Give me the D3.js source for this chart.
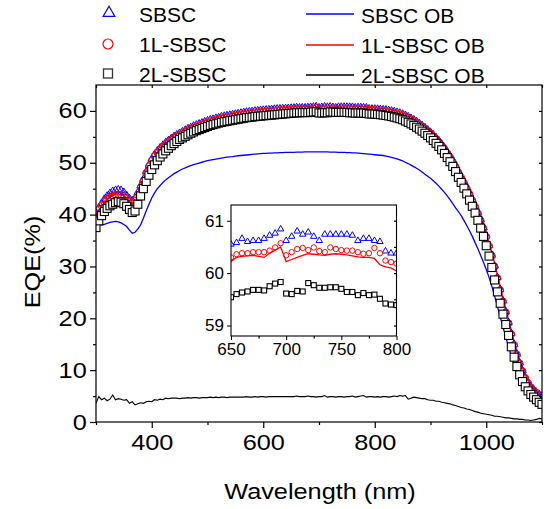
<!DOCTYPE html>
<html>
<head>
<meta charset="utf-8">
<script src="https://cdn.jsdelivr.net/npm/d3@7"></script>
<style>
  body { margin: 0; background: #fff; }
  svg text { font-family: Arial, "Liberation Sans", sans-serif; fill: #000; }
</style>
</head>
<body>
<div id="chart"></div>
<script>
////////////// DATA //////////////

// sampling grid of the measurement, nm
const wavelength = d3.range(300, 1101, 5);

// EQE (%) of the three cells (markers), one row = 50 nm
const sbsc = [
    40.3, 41.3, 42.2, 43.0, 43.6, 44.1, 44.5, 44.7, 44.8, 44.7,
    44.3, 43.7, 43.1, 42.7, 43.2, 44.3, 45.6, 46.8, 48.3, 49.6,
    50.7, 51.6, 52.3, 52.9, 53.4, 53.9, 54.3, 54.7, 55.1, 55.4,
    55.7, 56.0, 56.3, 56.6, 56.8, 57.1, 57.3, 57.5, 57.7, 57.9,
    58.1, 58.3, 58.4, 58.6, 58.7, 58.9, 59.0, 59.1, 59.2, 59.3,
    59.4, 59.5, 59.6, 59.7, 59.8, 59.85, 59.9, 60.0, 60.05, 60.1,
    60.15, 60.2, 60.25, 60.3, 60.35, 60.4, 60.42, 60.45, 60.48, 60.5,
    60.55, 60.58, 60.66, 60.6, 60.62, 60.62, 60.66, 60.72, 60.76, 60.84,
    60.62, 60.7, 60.8, 60.74, 60.78, 60.7, 60.62, 60.74, 60.74, 60.74,
    60.74, 60.74, 60.72, 60.62, 60.66, 60.66, 60.62, 60.6, 60.42, 60.38,
    60.38, 60.35, 60.3, 60.25, 60.2, 60.1, 60.0, 59.9, 59.75, 59.6,
    59.4, 59.15, 58.9, 58.6, 58.3, 57.95, 57.6, 57.2, 56.8, 56.35,
    55.9, 55.4, 54.85, 54.25, 53.6, 52.9, 52.1, 51.3, 50.4, 49.4,
    48.3, 47.3, 46.3, 45.2, 44.1, 42.9, 41.7, 40.4, 39.0, 37.5,
    35.9, 34.1, 32.2, 30.1, 27.9, 25.6, 23.4, 21.3, 19.2, 17.1,
    15.0, 13.1, 11.4, 9.9, 8.6, 7.6, 6.8, 6.2, 5.7, 5.3,
    5.0
];

const sbsc1L = [
    40.0, 40.9, 41.7, 42.4, 42.9, 43.3, 43.6, 43.8, 43.9, 43.8,
    43.5, 43.0, 42.5, 42.1, 42.6, 43.8, 45.2, 46.5, 48.0, 49.3,
    50.4, 51.3, 52.0, 52.6, 53.1, 53.6, 54.0, 54.4, 54.8, 55.1,
    55.4, 55.7, 56.0, 56.3, 56.5, 56.8, 57.0, 57.2, 57.4, 57.6,
    57.8, 58.0, 58.1, 58.3, 58.4, 58.6, 58.7, 58.8, 58.9, 59.0,
    59.1, 59.2, 59.3, 59.4, 59.5, 59.55, 59.6, 59.7, 59.75, 59.8,
    59.85, 59.9, 59.95, 60.0, 60.05, 60.1, 60.13, 60.16, 60.2, 60.24,
    60.3, 60.36, 60.38, 60.38, 60.4, 60.4, 60.4, 60.43, 60.49, 60.57,
    60.34, 60.4, 60.46, 60.48, 60.44, 60.49, 60.42, 60.4, 60.49, 60.46,
    60.44, 60.43, 60.43, 60.4, 60.37, 60.38, 60.48, 60.38, 60.24, 60.21,
    60.18, 60.12, 60.07, 60.02, 59.95, 59.85, 59.75, 59.63, 59.5, 59.35,
    59.15, 58.9, 58.65, 58.35, 58.05, 57.7, 57.35, 56.95, 56.55, 56.1,
    55.65, 55.15, 54.6, 54.0, 53.35, 52.65, 51.85, 51.05, 50.15, 49.2,
    48.15, 47.15, 46.15, 45.05, 43.95, 42.75, 41.55, 40.25, 38.85, 37.35,
    35.75, 33.95, 32.05, 29.95, 27.75, 25.45, 23.25, 21.15, 19.05, 16.95,
    14.9, 13.0, 11.3, 9.8, 8.5, 7.5, 6.7, 6.1, 5.6, 5.2,
    4.9
];

const sbsc2L = [
    37.5, 38.8, 39.8, 40.6, 41.2, 41.7, 42.0, 42.3, 42.5, 42.4,
    42.1, 41.6, 41.0, 40.4, 40.7, 42.0, 43.6, 45.0, 46.4, 47.6,
    48.7, 49.6, 50.4, 51.1, 51.7, 52.3, 52.8, 53.3, 53.7, 54.1,
    54.5, 54.8, 55.1, 55.4, 55.7, 55.95, 56.2, 56.4, 56.6, 56.8,
    57.0, 57.2, 57.35, 57.5, 57.65, 57.8, 57.9, 58.0, 58.1, 58.2,
    58.3, 58.4, 58.5, 58.6, 58.7, 58.75, 58.8, 58.9, 58.95, 59.0,
    59.05, 59.1, 59.15, 59.2, 59.25, 59.3, 59.35, 59.4, 59.45, 59.5,
    59.54, 59.6, 59.63, 59.65, 59.68, 59.68, 59.67, 59.75, 59.8, 59.83,
    59.61, 59.6, 59.66, 59.65, 59.81, 59.77, 59.72, 59.72, 59.73, 59.73,
    59.7, 59.64, 59.64, 59.58, 59.62, 59.58, 59.59, 59.51, 59.42, 59.4,
    59.39, 59.33, 59.27, 59.2, 59.12, 59.03, 58.92, 58.8, 58.65, 58.5,
    58.3, 58.05, 57.8, 57.5, 57.2, 56.85, 56.5, 56.1, 55.7, 55.25,
    54.8, 54.3, 53.75, 53.15, 52.5, 51.8, 51.0, 50.2, 49.3, 48.3,
    47.2, 46.2, 45.1, 44.0, 42.8, 41.6, 40.3, 38.9, 37.4, 35.8,
    34.0, 32.0, 29.8, 27.4, 25.1, 22.9, 20.8, 18.8, 16.7, 14.5,
    12.5, 10.7, 9.1, 7.8, 6.8, 6.0, 5.3, 4.8, 4.3, 3.8,
    3.4
];

// EQE (%) of the "OB" measurements (lines)
const sbscOB = [
    38.6, 38.3, 38.0, 38.1, 38.3, 38.5, 38.6, 38.7, 38.6, 38.4,
    38.1, 37.7, 37.0, 36.4, 36.6, 37.2, 38.0, 39.3, 40.7, 42.0,
    43.2, 44.2, 45.0, 45.6, 46.2, 46.7, 47.1, 47.5, 47.9, 48.2,
    48.5, 48.8, 49.0, 49.25, 49.45, 49.65, 49.8, 49.95, 50.1, 50.25,
    50.4, 50.5, 50.6, 50.7, 50.8, 50.9, 51.0, 51.1, 51.15, 51.2,
    51.3, 51.35, 51.4, 51.45, 51.5, 51.55, 51.6, 51.65, 51.7, 51.75,
    51.8, 51.8, 51.85, 51.85, 51.9, 51.9, 51.95, 51.95, 52.0, 52.0,
    52.0, 52.0, 52.05, 52.05, 52.05, 52.1, 52.1, 52.1, 52.1, 52.1,
    52.1, 52.1, 52.1, 52.1, 52.05, 52.05, 52.05, 52.0, 52.0, 52.0,
    51.95, 51.95, 51.9, 51.9, 51.85, 51.8, 51.75, 51.7, 51.65, 51.6,
    51.55, 51.5, 51.45, 51.4, 51.3, 51.2, 51.05, 50.9, 50.75, 50.55,
    50.35, 50.1, 49.85, 49.55, 49.25, 48.95, 48.6, 48.2, 47.8, 47.4,
    47.0, 46.55, 46.05, 45.5, 44.9, 44.3, 43.6, 42.9, 42.1, 41.3,
    40.6, 39.8, 38.9, 37.9, 36.9, 35.8, 34.6, 33.4, 32.1, 30.8,
    29.4, 27.9, 26.2, 24.3, 22.3, 20.3, 18.3, 16.4, 14.5, 12.7,
    11.0, 9.5, 8.2, 7.1, 6.2, 5.4, 4.8, 4.3, 3.8, 3.4,
    3.0
];

const sbsc1LOB = [
    39.9, 40.8, 41.6, 42.3, 42.9, 43.4, 43.7, 43.9, 44.0, 43.9,
    43.6, 43.1, 42.5, 42.0, 42.4, 43.6, 45.0, 46.4, 47.9, 49.2,
    50.3, 51.2, 51.9, 52.5, 53.0, 53.5, 53.9, 54.3, 54.7, 55.0,
    55.3, 55.6, 55.9, 56.2, 56.4, 56.7, 56.9, 57.1, 57.3, 57.5,
    57.7, 57.9, 58.0, 58.2, 58.3, 58.5, 58.6, 58.7, 58.8, 58.9,
    59.0, 59.1, 59.2, 59.3, 59.4, 59.45, 59.5, 59.6, 59.65, 59.7,
    59.75, 59.8, 59.85, 59.9, 59.95, 60.0, 60.04, 60.08, 60.12, 60.16,
    60.22, 60.3, 60.32, 60.33, 60.34, 60.32, 60.3, 60.38, 60.44, 60.5,
    60.22, 60.26, 60.3, 60.34, 60.37, 60.36, 60.35, 60.34, 60.36, 60.37,
    60.36, 60.35, 60.33, 60.31, 60.3, 60.3, 60.28, 60.16, 60.12, 60.1,
    60.04, 60.0, 59.96, 59.92, 59.86, 59.78, 59.68, 59.57, 59.45, 59.3,
    59.12, 58.9, 58.65, 58.37, 58.07, 57.75, 57.4, 57.02, 56.62, 56.2,
    55.75, 55.27, 54.75, 54.18, 53.55, 52.87, 52.12, 51.32, 50.45, 49.52,
    48.5, 47.5, 46.5, 45.45, 44.35, 43.2, 42.0, 40.7, 39.35, 37.9,
    36.3, 34.55, 32.65, 30.6, 28.4, 26.15, 23.95, 21.85, 19.75, 17.65,
    15.55, 13.65, 11.95, 10.45, 9.1, 8.0, 7.1, 6.4, 5.9, 5.5,
    5.2
];

const sbsc2LOB = [
    3.6, 4.9, 4.3, 4.6, 4.1, 4.4, 5.2, 4.3, 4.5, 4.4,
    4.2, 4.3, 3.6, 3.9, 3.3, 3.5, 3.7, 3.6, 3.9, 4.0,
    3.9, 4.3, 4.2, 4.4, 4.3, 4.6, 4.5, 4.6, 4.6, 4.6,
    4.5, 4.6, 4.6, 4.7, 4.6, 4.7, 4.7, 4.6, 4.7, 4.7,
    4.7, 4.8, 4.7, 4.8, 4.7, 4.8, 4.8, 4.7, 4.8, 4.8,
    4.8, 4.8, 4.8, 4.8, 4.9, 4.8, 4.8, 4.9, 4.8, 4.9,
    4.9, 4.8, 4.9, 4.9, 4.9, 4.9, 4.9, 4.9, 4.9, 4.9,
    4.9, 4.9, 5.0, 4.9, 4.9, 4.9, 5.0, 4.9, 4.9, 4.8,
    4.9, 4.9, 5.1, 4.8, 4.9, 4.9, 4.8, 4.9, 4.9, 4.8,
    4.9, 4.9, 5.0, 4.8, 4.9, 5.0, 5.1, 4.8, 4.9, 4.9,
    4.8, 4.9, 4.8, 4.9, 4.9, 4.8, 4.9, 5.0, 4.9, 5.1,
    5.0, 5.1, 4.4, 4.6, 4.8, 4.7, 4.6, 4.5, 4.5, 4.3,
    4.2, 4.2, 4.0, 4.0, 3.8, 3.7, 3.6, 3.5, 3.3, 3.2,
    3.0, 2.8, 2.7, 2.5, 2.4, 2.2, 2.0, 1.9, 1.7, 1.6,
    1.5, 1.4, 1.3, 1.1, 1.1, 1.0, 0.9, 0.8, 0.8, 0.7,
    0.6, 0.6, 0.5, 0.5, 0.4, 0.4, 0.3, 0.4, 0.5, 0.7,
    0.6
];

const markerNames = ["SBSC", "1L-SBSC", "2L-SBSC"];
const lineNames = ["SBSC OB", "1L-SBSC OB", "2L-SBSC OB"];

const xTicksMajor = [400, 600, 800, 1000];
const xTicksMinor = [300, 500, 700, 900, 1100];
const yTicksMajor = [0, 10, 20, 30, 40, 50, 60];
const yTicksMinor = [5, 15, 25, 35, 45, 55];
const insetXTicks = [650, 700, 750, 800];
const insetXMinor = [675, 725, 775];
const insetYTicks = [59, 60, 61];

////////////// CHART //////////////

const width = 548;
const height = 509;
const TXT = 1.15; // axis text of the original is slightly wide

const svg = d3.select("#chart").append("svg")
    .attr("width", width)
    .attr("height", height);

const x = d3.scaleLinear().domain([300, 1100]).range([96, 542]);
const y = d3.scaleLinear().domain([0, 65]).range([422, 85]);

const xi = d3.scaleLinear().domain([650, 800]).range([231, 396.5]);
const yi = d3.scaleLinear().domain([58.8, 61.3]).range([336, 205]);

const pts = wavelength.map(function (w, i) {
    return {
        w: w, a: sbsc[i], b: sbsc1L[i], c: sbsc2L[i],
        ob: sbscOB[i], ob1: sbsc1LOB[i], ob2: sbsc2LOB[i]
    };
});

const blue = "#0000ff", red = "#ff0000";

const defs = svg.append("defs");
defs.append("clipPath").attr("id", "clipMain").append("rect")
    .attr("x", 96).attr("y", 85).attr("width", 446).attr("height", 337);
defs.append("clipPath").attr("id", "clipInset").append("rect")
    .attr("x", 231).attr("y", 205).attr("width", 165.5).attr("height", 131);

function drawSeries(g, sx, sy, data, s) {
    const line = function (key) {
        return d3.line().x(d => sx(d.w)).y(d => sy(d[key]));
    };
    if (s.lines) {
        g.append("path").datum(data).attr("d", line("ob2"))
            .attr("fill", "none").attr("stroke", "#000").attr("stroke-width", 1.1);
        g.append("path").datum(data).attr("d", line("ob"))
            .attr("fill", "none").attr("stroke", blue).attr("stroke-width", 1.3);
    }
    g.append("path").datum(data).attr("d", line("ob1"))
        .attr("fill", "none").attr("stroke", red).attr("stroke-width", 1.3);

    g.selectAll("path.tri").data(data).enter().append("path")
        .attr("class", "tri")
        .attr("d", d3.symbol().type(d3.symbolTriangle).size(s.tri))
        .attr("transform", d => `translate(${sx(d.w)},${sy(d.a)})`)
        .attr("fill", "none").attr("stroke", blue).attr("stroke-width", 1);

    g.selectAll("circle.cir").data(data).enter().append("circle")
        .attr("class", "cir")
        .attr("cx", d => sx(d.w)).attr("cy", d => sy(d.b)).attr("r", s.r)
        .attr("fill", "none").attr("stroke", red).attr("stroke-width", 1);

    g.selectAll("rect.sq").data(data).enter().append("rect")
        .attr("class", "sq")
        .attr("x", d => sx(d.w) - s.sq / 2).attr("y", d => sy(d.c) - s.sq / 2)
        .attr("width", s.sq).attr("height", s.sq)
        .attr("fill", "#fff").attr("stroke", "#000").attr("stroke-width", 1.1);
}

////////////// MAIN PLOT //////////////

const main = svg.append("g").attr("clip-path", "url(#clipMain)");
drawSeries(main, x, y, pts, {lines: true, tri: 24, r: 3.5, sq: 8});

// frame
svg.append("rect").attr("x", 96).attr("y", 85).attr("width", 446).attr("height", 337)
    .attr("fill", "none").attr("stroke", "#000").attr("stroke-width", 1.2);

function styleAxis(g) {
    g.select(".domain").remove();
    g.selectAll("line").attr("stroke", "#000").attr("stroke-width", 1.2);
}

const xAxis = svg.append("g").attr("transform", "translate(0,422)")
    .call(d3.axisBottom(x).tickValues(xTicksMajor).tickSize(6).tickPadding(6).tickFormat(d3.format("d")));
styleAxis(xAxis);
xAxis.selectAll("text").attr("font-size", 22).attr("transform", `scale(${TXT},1)`);

svg.append("g").attr("transform", "translate(0,422)")
    .call(d3.axisBottom(x).tickValues(xTicksMinor).tickSize(3).tickFormat(""))
    .call(styleAxis);

const yAxis = svg.append("g").attr("transform", "translate(96,0)")
    .call(d3.axisLeft(y).tickValues(yTicksMajor).tickSize(6).tickFormat(d3.format("d")));
styleAxis(yAxis);
yAxis.selectAll("text").attr("font-size", 22).attr("x", -9.3 / TXT)
    .attr("transform", `scale(${TXT},1)`);

svg.append("g").attr("transform", "translate(96,0)")
    .call(d3.axisLeft(y).tickValues(yTicksMinor).tickSize(3).tickFormat(""))
    .call(styleAxis);

// short inward ticks on the top and right border
svg.append("g").attr("transform", "translate(0,85)")
    .call(d3.axisBottom(x).tickValues(d3.merge([xTicksMajor, xTicksMinor])).tickSize(3).tickFormat(""))
    .call(styleAxis);
svg.append("g").attr("transform", "translate(542,0)")
    .call(d3.axisLeft(y).tickValues(d3.merge([yTicksMajor, yTicksMinor])).tickSize(3).tickFormat(""))
    .call(styleAxis);

svg.append("text")
    .attr("transform", `translate(320,499) scale(${TXT},1)`)
    .attr("text-anchor", "middle").attr("font-size", 22)
    .text("Wavelength (nm)");

svg.append("text")
    .attr("transform", `translate(40,262) rotate(-90) scale(${TXT},1)`)
    .attr("text-anchor", "middle").attr("font-size", 22)
    .text("EQE(%)");

////////////// INSET //////////////

svg.append("rect").attr("x", 231).attr("y", 205).attr("width", 165.5).attr("height", 131)
    .attr("fill", "#fff");

const insetPts = pts.filter(d => d.w >= 650 && d.w <= 800);
const inset = svg.append("g").attr("clip-path", "url(#clipInset)");
drawSeries(inset, xi, yi, insetPts, {lines: false, tri: 18, r: 2.7, sq: 5});

svg.append("rect").attr("x", 231).attr("y", 205).attr("width", 165.5).attr("height", 131)
    .attr("fill", "none").attr("stroke", "#000").attr("stroke-width", 1.1);

const ixAxis = svg.append("g").attr("transform", "translate(0,336)")
    .call(d3.axisBottom(xi).tickValues(insetXTicks).tickSize(4).tickPadding(3).tickFormat(d3.format("d")));
styleAxis(ixAxis);
ixAxis.selectAll("line").attr("stroke-width", 1);
ixAxis.selectAll("text").attr("font-size", 17);

svg.append("g").attr("transform", "translate(0,336)")
    .call(d3.axisBottom(xi).tickValues(insetXMinor).tickSize(2.5).tickFormat(""))
    .call(styleAxis);

const iyAxis = svg.append("g").attr("transform", "translate(231,0)")
    .call(d3.axisLeft(yi).tickValues(insetYTicks).tickSize(4).tickPadding(3).tickFormat(d3.format("d")));
styleAxis(iyAxis);
iyAxis.selectAll("line").attr("stroke-width", 1);
iyAxis.selectAll("text").attr("font-size", 17);

svg.append("g").attr("transform", "translate(396.5,0)")
    .call(d3.axisLeft(yi).tickValues([59, 59.5, 60, 60.5, 61]).tickSize(2.5).tickFormat(""))
    .call(styleAxis);

////////////// LEGEND //////////////

const rowY = [22, 52, 82];

const legL = svg.append("g");
legL.append("path")
    .attr("d", d3.symbol().type(d3.symbolTriangle).size(60))
    .attr("transform", `translate(109,${rowY[0] - 9})`)
    .attr("fill", "none").attr("stroke", blue).attr("stroke-width", 1.2);
legL.append("circle").attr("cx", 108).attr("cy", rowY[1] - 8).attr("r", 5)
    .attr("fill", "none").attr("stroke", red).attr("stroke-width", 1.2);
legL.append("rect").attr("x", 103.5).attr("y", rowY[2] - 13).attr("width", 9).attr("height", 9)
    .attr("fill", "#fff").attr("stroke", "#333").attr("stroke-width", 1.3);
legL.selectAll("text").data(markerNames).enter().append("text")
    .attr("x", 139).attr("y", (d, i) => rowY[i])
    .attr("font-size", 21)
    .text(d => d);

const lineColors = [blue, red, "#000"];
const legR = svg.append("g");
legR.selectAll("line").data(lineNames).enter().append("line")
    .attr("x1", 306).attr("x2", 354)
    .attr("y1", (d, i) => rowY[i] - 8 + (i ? 1 : 0)).attr("y2", (d, i) => rowY[i] - 8 + (i ? 1 : 0))
    .attr("stroke", (d, i) => lineColors[i]).attr("stroke-width", 1.4);
legR.selectAll("text").data(lineNames).enter().append("text")
    .attr("x", 361).attr("y", (d, i) => rowY[i] + 1)
    .attr("font-size", 21)
    .text(d => d);
</script>
</body>
</html>
